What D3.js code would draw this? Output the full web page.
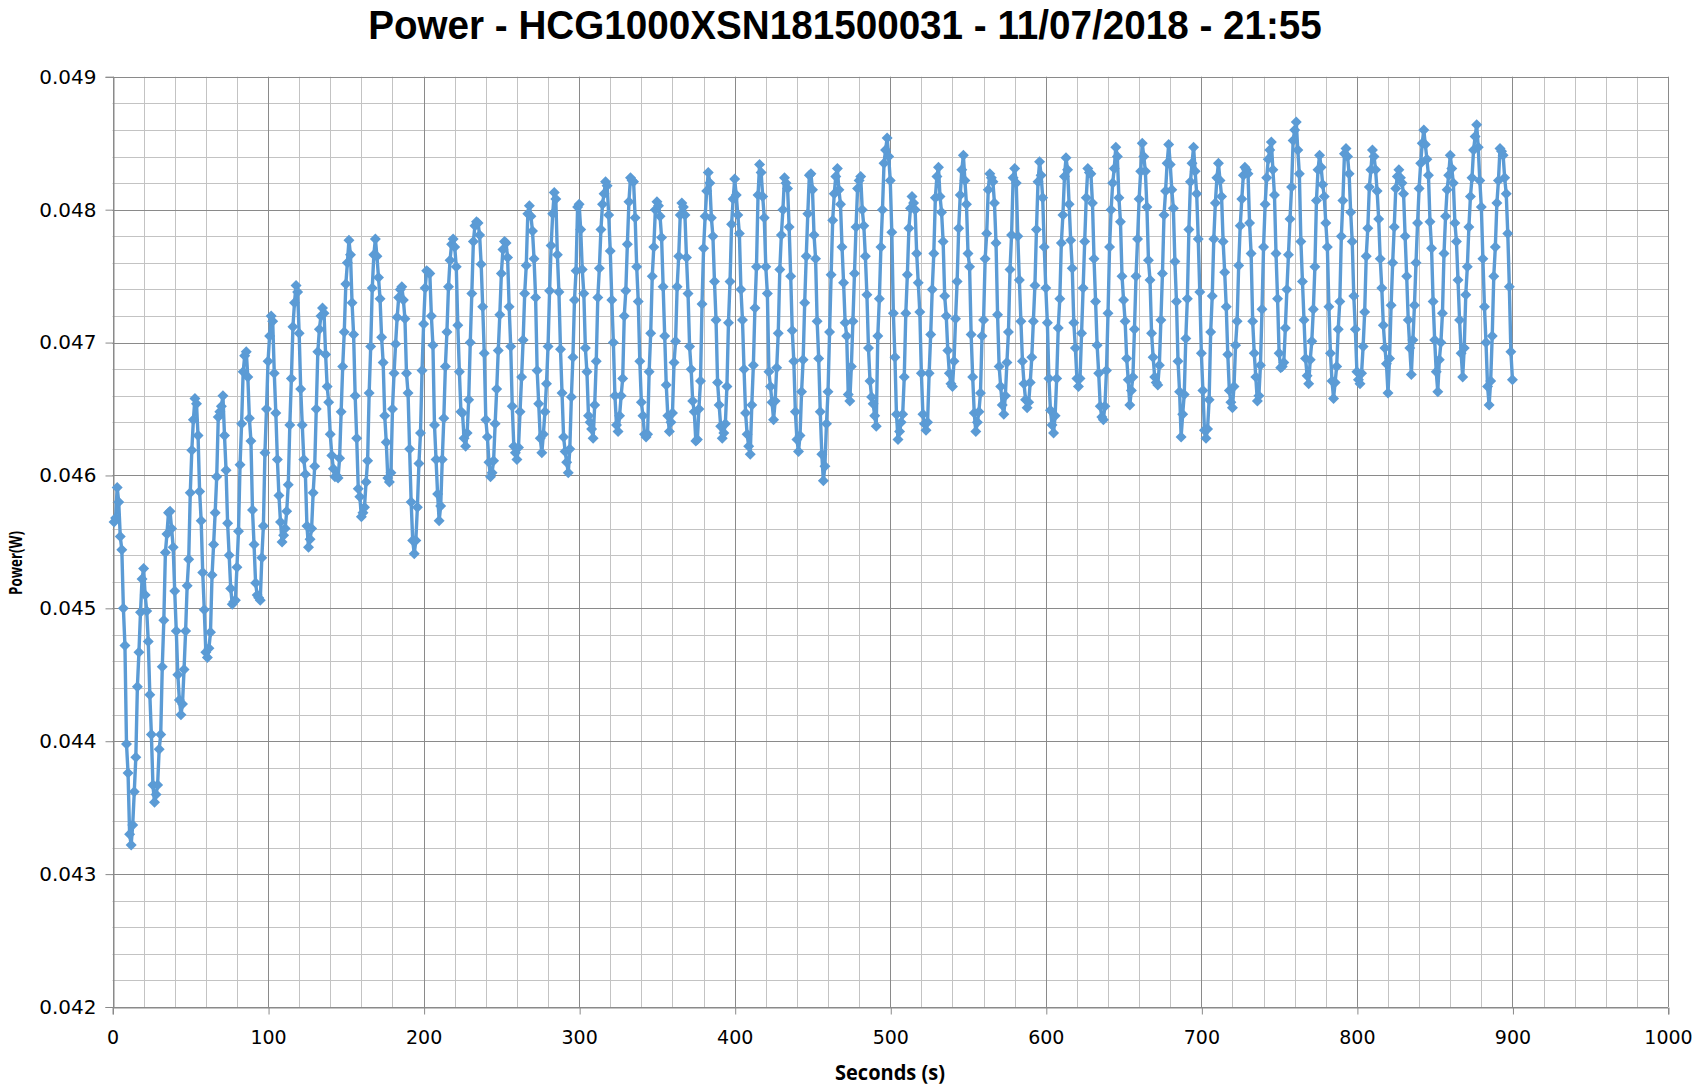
<!DOCTYPE html>
<html><head><meta charset="utf-8">
<script src="https://cdn.jsdelivr.net/npm/d3@7"></script>
<style>body{margin:0;background:#fff} svg{display:block}</style>
</head><body>
<svg id="chart" width="1696" height="1090"></svg>
<script>
const chartTitle = "Power - HCG1000XSN181500031 - 11/07/2018 - 21:55";
const xTitle = "Seconds (s)";
const yTitle = "Power(W)";
const xTickValues = [0, 100, 200, 300, 400, 500, 600, 700, 800, 900, 1000];
const yTickValues = [0.042, 0.043, 0.044, 0.045, 0.046, 0.047, 0.048, 0.049];
const firstSecond = 1;   // one sample per second
// power readings in mW, one per second (1..900)
const power_mW = [
45.65,45.68,45.91,45.80,45.54,45.44,45.00,44.72,43.98,43.76,
43.30,43.22,43.37,43.62,43.88,44.41,44.67,44.97,45.22,45.30,
45.10,44.98,44.75,44.35,44.05,43.67,43.54,43.60,43.67,43.94,
44.05,44.56,44.91,45.42,45.56,45.72,45.73,45.60,45.46,45.13,
44.83,44.50,44.31,44.20,44.28,44.54,44.83,45.17,45.37,45.87,
46.19,46.42,46.58,46.54,46.30,45.88,45.66,45.27,44.99,44.67,
44.63,44.70,44.82,45.25,45.48,45.72,45.99,46.44,46.48,46.52,
46.60,46.30,46.04,45.64,45.40,45.15,45.03,45.05,45.06,45.31,
45.58,46.08,46.39,46.78,46.90,46.93,46.74,46.43,46.26,45.74,
45.48,45.19,45.10,45.08,45.06,45.38,45.62,46.17,46.50,46.86,
47.05,47.20,47.16,46.77,46.47,46.12,45.85,45.65,45.50,45.55,
45.60,45.73,45.93,46.38,46.73,47.12,47.30,47.43,47.38,47.07,
46.65,46.38,46.12,46.01,45.62,45.46,45.52,45.60,45.87,46.07,
46.50,46.93,47.10,47.20,47.26,47.22,46.91,46.67,46.55,46.31,
46.15,46.05,45.99,46.00,45.98,46.13,46.48,46.82,47.08,47.44,
47.60,47.77,47.66,47.30,47.06,46.60,46.28,45.90,45.84,45.69,
45.72,45.76,45.95,46.11,46.62,46.97,47.41,47.66,47.78,47.65,
47.49,47.33,47.04,46.85,46.45,46.25,45.98,45.95,46.02,46.50,
46.77,46.99,47.19,47.34,47.40,47.42,47.32,47.18,46.77,46.62,
46.20,45.80,45.51,45.41,45.51,45.76,46.09,46.32,46.79,47.14,
47.41,47.54,47.53,47.52,47.20,46.98,46.38,46.12,45.86,45.66,
45.77,46.12,46.43,46.82,47.08,47.42,47.62,47.74,47.78,47.72,
47.57,47.13,46.78,46.48,46.47,46.28,46.22,46.32,46.57,47.00,
47.37,47.76,47.88,47.91,47.90,47.81,47.59,47.27,46.92,46.42,
46.29,46.10,45.99,46.02,46.11,46.39,46.65,46.94,47.21,47.52,
47.70,47.76,47.75,47.64,47.27,46.97,46.52,46.22,46.17,46.12,
46.21,46.48,46.74,47.02,47.37,47.58,47.97,48.03,47.95,47.84,
47.63,47.34,46.79,46.54,46.28,46.17,46.31,46.48,46.69,46.97,
47.39,47.73,47.97,48.13,48.08,47.66,47.38,46.95,46.62,46.29,
46.18,46.10,46.02,46.20,46.59,46.89,47.32,47.54,48.02,48.04,
47.85,47.55,47.37,46.96,46.78,46.45,46.40,46.35,46.28,46.53,
46.86,47.34,47.56,47.85,48.04,48.12,48.21,48.18,47.96,47.69,
47.32,47.00,46.60,46.38,46.33,46.45,46.60,46.73,47.20,47.39,
47.74,48.06,48.24,48.22,48.21,47.94,47.57,47.31,46.86,46.55,
46.45,46.31,46.29,46.31,46.78,47.07,47.50,47.72,48.00,48.06,
48.03,47.95,47.79,47.42,47.05,46.68,46.45,46.33,46.40,46.47,
46.85,47.01,47.42,47.65,47.96,48.05,48.02,47.96,47.64,47.37,
46.97,46.80,46.56,46.48,46.26,46.27,46.50,46.71,47.29,47.71,
47.95,48.14,48.28,48.20,47.94,47.80,47.46,47.17,46.70,46.53,
46.37,46.28,46.32,46.39,46.67,47.15,47.46,47.89,48.08,48.23,
48.11,47.96,47.82,47.40,47.17,46.80,46.47,46.31,46.22,46.16,
46.53,46.83,47.26,47.57,48.11,48.34,48.28,48.10,47.94,47.57,
47.37,46.78,46.67,46.55,46.42,46.56,46.81,47.07,47.55,47.81,
48.00,48.24,48.20,48.16,47.87,47.50,47.09,46.86,46.48,46.27,
46.18,46.30,46.63,46.87,47.30,47.65,47.97,48.26,48.27,48.15,
47.81,47.63,47.16,46.88,46.48,46.16,45.96,46.07,46.39,46.63,
47.08,47.51,47.92,48.12,48.25,48.31,48.15,48.04,47.72,47.45,
47.15,47.05,46.61,46.56,46.82,47.16,47.52,47.87,48.16,48.22,
48.25,48.00,47.88,47.65,47.36,46.96,46.71,46.59,46.54,46.45,
46.37,47.05,47.33,47.72,48.00,48.35,48.45,48.54,48.40,48.22,
47.83,47.22,46.89,46.46,46.27,46.33,46.40,46.46,46.74,47.22,
47.51,47.86,48.01,48.10,48.05,48.00,47.67,47.45,47.23,46.77,
46.46,46.39,46.34,46.40,46.77,47.06,47.40,47.67,48.09,48.25,
48.32,48.10,47.98,47.76,47.35,47.20,46.94,46.77,46.69,46.67,
46.86,47.18,47.46,47.86,48.11,48.30,48.41,48.22,48.04,47.67,
47.57,47.06,46.74,46.47,46.33,46.40,46.48,46.62,47.05,47.17,
47.63,47.82,48.15,48.27,48.24,48.21,48.05,47.75,47.21,46.82,
46.67,46.53,46.46,46.60,46.85,47.08,47.55,47.81,48.24,48.31,
48.20,47.80,47.47,47.16,46.86,46.69,46.57,46.51,46.55,46.70,
46.89,47.16,47.43,47.85,48.21,48.36,48.26,48.09,47.72,47.41,
47.15,46.73,46.49,46.38,46.32,46.45,46.73,47.11,47.33,47.75,
47.96,48.25,48.39,48.30,48.04,47.77,47.56,47.15,46.96,46.73,
46.67,46.73,47.07,47.41,47.76,48.09,48.31,48.28,48.27,48.05,
47.63,47.31,46.98,46.77,46.52,46.44,46.42,46.52,46.79,47.22,
47.72,48.00,48.20,48.31,48.47,48.40,48.09,47.91,47.50,47.32,
47.16,46.88,46.72,46.53,46.64,46.74,47.10,47.50,47.78,48.08,
48.29,48.50,48.40,48.29,48.02,47.62,47.47,47.07,46.89,46.74,
46.70,46.68,46.83,47.17,47.52,47.96,48.14,48.35,48.49,48.34,
48.15,48.01,47.61,47.31,46.86,46.63,46.29,46.46,46.61,47.03,
47.33,47.85,48.21,48.35,48.47,48.29,48.12,47.78,47.38,46.92,
46.64,46.34,46.28,46.35,46.57,47.08,47.35,47.78,48.05,48.24,
48.35,48.22,48.10,47.76,47.53,47.27,46.91,46.64,46.55,46.51,
46.67,46.98,47.16,47.58,47.88,48.08,48.26,48.32,48.30,48.27,
47.90,47.67,47.16,46.92,46.74,46.56,46.60,46.83,47.25,47.72,
48.04,48.24,48.38,48.45,48.51,48.30,48.11,47.67,47.33,46.92,
46.81,46.82,46.85,47.11,47.40,47.66,47.93,48.17,48.52,48.60,
48.66,48.45,48.27,47.76,47.46,47.17,46.88,46.75,46.69,46.87,
47.01,47.25,47.57,48.07,48.30,48.41,48.32,48.19,48.10,47.90,
47.72,47.27,46.92,46.71,46.58,46.70,46.82,47.10,47.31,47.80,
48.07,48.42,48.46,48.40,48.27,47.98,47.76,47.35,47.10,46.78,
46.72,46.69,46.77,46.97,47.23,47.65,47.86,48.17,48.30,48.45,
48.40,48.30,48.14,47.93,47.63,47.41,47.13,46.96,46.84,46.62,
46.88,47.28,47.60,47.87,48.16,48.25,48.30,48.24,48.20,48.12,
47.80,47.50,47.17,46.96,46.76,47.02,47.28,47.60,47.90,48.16,
48.35,48.50,48.60,48.49,48.38,48.26,47.91,47.71,47.31,47.02,
46.78,46.63,46.87,47.00,47.22,47.67,47.95,48.15,48.26,48.41,
48.31,48.20,47.90,47.76,47.47,47.17,46.92,46.74,46.96,47.36,
47.57,47.87,48.10,48.24,48.45,48.55,48.64,48.47,48.22,48.02,
47.63,47.27,47.00,46.67,46.53,46.71,47.05,47.50,47.72,48.05,
48.22,48.46,48.44,48.41,48.24,48.12,47.82,47.42,46.93,46.72
];
const seconds = power_mW.map((_, i) => firstSecond + i);
const powerW = power_mW.map(v => v / 1000);
const points = seconds.map((t, i) => ({t: t, v: powerW[i]}));

const colors = {series: "#5b9bd5", major: "#8a8a8a", minor: "#c3c3c3", text: "#000"};
const plot = {left: 112.5, right: 1668, top: 76.8, bottom: 1007};

const svg = d3.select("#chart");
svg.append("rect").attr("width", 1696).attr("height", 1090).attr("fill", "#fff");

const x = d3.scaleLinear().domain([0, 1000]).range([plot.left, plot.right]);
const y = d3.scaleLinear().domain([0.042, 0.049]).range([plot.bottom, plot.top]);
const px = v => Math.round(v) + 0.5;

// minor gridlines
const g = svg.append("g");
const xMinor = x.ticks(50);
const yMinor = y.ticks(35);
g.selectAll("line.xm").data(xMinor).join("line")
  .attr("x1", d => px(x(d))).attr("x2", d => px(x(d)))
  .attr("y1", y(0.049)).attr("y2", y(0.042))
  .attr("stroke", colors.minor).attr("stroke-width", 1);
g.selectAll("line.ym").data(yMinor).join("line")
  .attr("y1", d => px(y(d))).attr("y2", d => px(y(d)))
  .attr("x1", x(0)).attr("x2", x(1000))
  .attr("stroke", colors.minor).attr("stroke-width", 1);
// major gridlines
g.selectAll("line.xM").data(xTickValues).join("line")
  .attr("x1", d => px(x(d))).attr("x2", d => px(x(d)))
  .attr("y1", y(0.049)).attr("y2", y(0.042))
  .attr("stroke", colors.major).attr("stroke-width", 1);
g.selectAll("line.yM").data(yTickValues).join("line")
  .attr("y1", d => px(y(d))).attr("y2", d => px(y(d)))
  .attr("x1", x(0)).attr("x2", x(1000))
  .attr("stroke", colors.major).attr("stroke-width", 1);

// axes
const yAxis = svg.append("g").attr("transform", `translate(${px(x(0))},0)`)
  .call(d3.axisLeft(y).tickValues(yTickValues).tickFormat(d3.format(".3f")).tickSize(8).tickPadding(9));
const xAxis = svg.append("g").attr("transform", `translate(0,${px(y(0.042))})`)
  .call(d3.axisBottom(x).tickValues(xTickValues).tickFormat(d3.format("d")).tickSize(7).tickPadding(16));
[yAxis, xAxis].forEach(a => {
  a.selectAll("path.domain").attr("stroke", colors.major);
  a.selectAll(".tick line").attr("stroke", colors.major);
  a.selectAll(".tick text").attr("font-family", "DejaVu Sans, Verdana, sans-serif").attr("fill", colors.text);
});
yAxis.selectAll(".tick text").attr("font-size", 20);
xAxis.selectAll(".tick text").attr("font-size", 19);
xAxis.selectAll(".tick line").attr("x1", 0.5).attr("x2", 0.5);

// series
const line = d3.line().x(d => x(d.t)).y(d => y(d.v));
svg.append("path").datum(points)
  .attr("d", line).attr("fill", "none")
  .attr("stroke", colors.series).attr("stroke-width", 3.4).attr("stroke-linejoin", "round");
const r = 5.5;
svg.append("g").selectAll("path").data(points).join("path")
  .attr("d", `M0,${-r}L${r},0L0,${r}L${-r},0Z`)
  .attr("transform", d => `translate(${x(d.t)},${y(d.v)})`)
  .attr("fill", colors.series);

// text: bold face, horizontally scaled to the reference's width
function placeText(str, tx, ty, rot, fontSize, targetLen, family) {
  const grp = svg.append("g");
  const txt = grp.append("text").text(str).attr("text-anchor", "middle")
    .attr("font-family", family).attr("font-weight", "bold")
    .attr("font-size", fontSize).attr("fill", colors.text);
  const sx = targetLen / txt.node().getComputedTextLength();
  grp.attr("transform", `translate(${tx},${ty}) rotate(${rot}) scale(${sx},1)`);
}
placeText(chartTitle, 845, 38.5, 0, 41, 954, "'Liberation Sans', Arial, sans-serif");
placeText(xTitle, 890, 1080, 0, 21, 110, "'Open Sans', 'Noto Sans', sans-serif");
placeText(yTitle, 22, 563, -90, 18, 64, "'Open Sans', 'Noto Sans', sans-serif");
</script>
</body></html>
